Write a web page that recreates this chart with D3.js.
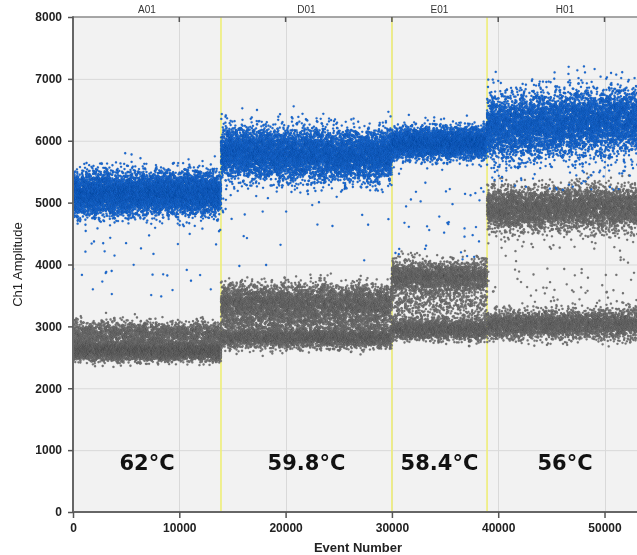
<!DOCTYPE html>
<html>
<head>
<meta charset="utf-8">
<script src="https://cdn.jsdelivr.net/npm/d3@7"></script>
<style>
  body { margin: 0; background: #fff; }
  #wrap { position: relative; width: 637px; height: 555px; overflow: hidden; }
  #wrap svg, #wrap canvas { position: absolute; left: 0; top: 0; }
</style>
</head>
<body>
<div id="wrap"></div>
<script>
// Wells run one after another along the event axis
const wells = ["A01", "D01", "E01", "H01"];
const wellStart = [0, 13920, 30000, 38950];
const wellEnd = [13920, 30000, 38950, 53620];
const temperatures = ["62°C", "59.8°C", "58.4°C", "56°C"];

// Droplet clusters: well index, channel state, amplitude centre, spread,
// share of the well's droplets, drift across the well, shape
const clusterWell   = [0, 0, 0, 0,   1, 1, 1, 1, 1,   2, 2, 2, 2, 2,   3, 3, 3, 3, 3];
const clusterState  = ["pos","neg","neg","pos", "pos","neg","neg","neg","pos", "pos","neg","neg","neg","pos", "pos","neg","neg","neg","pos"];
const clusterCentre = [5150, 2610, 2890, 4200,  5780, 3370, 2820, 3060, 4600,  5960, 3800, 2950, 3360, 4700,  6280, 4910, 3030, 3950, 5500];
const clusterSpread = [ 170,   80,   95,  900,   200,  150,   80,   80,  800,   125,  125,   85,  170,  700,   255,  170,  115,  700,  300];
const clusterShare  = [0.50, 0.36, 0.13, 0.0025, 0.44, 0.28, 0.22, 0.05, 0.002, 0.44, 0.26, 0.23, 0.06, 0.004, 0.43, 0.31, 0.24, 0.007, 0.0035];
const clusterDrift  = [  20,  -10,    0,    0,   -60,    0,    0,    0,    0,    20,    0,    0,    0,    0,   100,   20,   20,    0,    0];
const clusterShape  = ["band","band","band","rain", "band","band","band","band","rain", "band","band","band","band","rain", "band","band","band","rain","rain"];

const yTicks = [0, 1000, 2000, 3000, 4000, 5000, 6000, 7000, 8000];
const xTicks = [0, 10000, 20000, 30000, 40000, 50000];

const W = 637, H = 555;
const x = d3.scaleLinear().domain([0, 53620]).range([73, 643]);
const y = d3.scaleLinear().domain([0, 8000]).range([512, 17]);

const wrap = d3.select("#wrap");

// ---- background layer: plot area, grid, well dividers
const back = wrap.append("svg").attr("width", W).attr("height", H);
back.append("rect")
  .attr("x", x(0)).attr("y", y(8000))
  .attr("width", x(53620) - x(0)).attr("height", y(0) - y(8000))
  .attr("fill", "#f2f2f2");
back.append("g").selectAll("line").data(yTicks.slice(1, -1)).join("line")
  .attr("x1", x(0)).attr("x2", W)
  .attr("y1", d => y(d) + 0.5).attr("y2", d => y(d) + 0.5)
  .attr("stroke", "#d9d9d9").attr("stroke-width", 1);
back.append("g").selectAll("line").data(xTicks.slice(1)).join("line")
  .attr("x1", d => Math.round(x(d)) + 0.5).attr("x2", d => Math.round(x(d)) + 0.5)
  .attr("y1", y(8000)).attr("y2", y(0))
  .attr("stroke", "#d9d9d9").attr("stroke-width", 1);
back.append("g").selectAll("line").data(wellStart.slice(1)).join("line")
  .attr("x1", d => x(d)).attr("x2", d => x(d))
  .attr("y1", y(8000)).attr("y2", y(0))
  .attr("stroke", "#efee78").attr("stroke-width", 1.6);

// ---- droplet layer
const canvas = wrap.append("canvas").attr("width", W).attr("height", H).node();
const ctx = canvas.getContext("2d");
ctx.save();
ctx.beginPath();
ctx.rect(x(0), y(8000), x(53620) - x(0), y(0) - y(8000));
ctx.clip();

const lcg = d3.randomLcg(0.4172);
const unit = d3.randomUniform.source(lcg)(0, 1);
const gauss = d3.randomNormal.source(lcg)(0, 1);

const droplets = { pos: [], neg: [] };
wells.forEach((w, wi) => {
  const ids = d3.range(clusterWell.length).filter(c => clusterWell[c] === wi);
  const total = d3.sum(ids, c => clusterShare[c]);
  const cum = d3.cumsum(ids.map(c => clusterShare[c] / total));
  for (let ev = wellStart[wi]; ev < wellEnd[wi]; ev++) {
    const u = unit();
    let k = cum.findIndex(v => u <= v);
    if (k < 0) k = ids.length - 1;
    const c = ids[k];
    const t = (ev - wellStart[wi]) / (wellEnd[wi] - wellStart[wi]) - 0.5;
    const centre = clusterCentre[c] + clusterDrift[c] * t;
    const amp = clusterShape[c] === "band"
      ? centre + gauss() * clusterSpread[c]
      : centre + (unit() * 2 - 1) * clusterSpread[c];
    droplets[clusterState[c]].push([ev, amp]);
  }
});

function drawDroplets(list, fill, edge) {
  ctx.fillStyle = fill;
  ctx.strokeStyle = edge;
  ctx.lineWidth = 0.5;
  for (const [ev, amp] of list) {
    ctx.beginPath();
    ctx.arc(x(ev), y(amp), 1.15, 0, 2 * Math.PI);
    ctx.fill();
    ctx.stroke();
  }
}
drawDroplets(droplets.neg, "#767676", "rgba(0,0,0,0.16)");
drawDroplets(droplets.pos, "#1b6cd6", "rgba(4,30,80,0.2)");
ctx.restore();

// ---- front layer: axes and text
const front = wrap.append("svg").attr("width", W).attr("height", H);
const font = "'Liberation Sans', Arial, sans-serif";

// frame lines
front.append("line").attr("x1", x(0)).attr("x2", W).attr("y1", y(8000)).attr("y2", y(8000))
  .attr("stroke", "#8a8a8a").attr("stroke-width", 1.5);
front.append("line").attr("x1", x(0)).attr("x2", W).attr("y1", y(0)).attr("y2", y(0))
  .attr("stroke", "#666").attr("stroke-width", 2);
front.append("line").attr("x1", x(0)).attr("x2", x(0)).attr("y1", y(8000) - 0.75).attr("y2", y(0) + 1)
  .attr("stroke", "#666").attr("stroke-width", 2);

// y axis
const yAxis = d3.axisLeft(y).tickValues(yTicks).tickSize(5).tickPadding(6).tickFormat(d3.format("d"));
const gy = front.append("g").attr("transform", `translate(${x(0)},0)`).call(yAxis);
gy.select(".domain").remove();
gy.selectAll(".tick line").attr("stroke", "#555").attr("stroke-width", 1.5);
gy.selectAll(".tick text").attr("fill", "#222").attr("font-family", font)
  .attr("font-size", 12).attr("font-weight", "bold");

// x axis
const xAxis = d3.axisBottom(x).tickValues(xTicks).tickSize(6).tickPadding(5).tickFormat(d3.format("d"));
const gx = front.append("g").attr("transform", `translate(0,${y(0)})`).call(xAxis);
gx.select(".domain").remove();
gx.selectAll(".tick line").attr("stroke", "#555").attr("stroke-width", 1.5);
gx.selectAll(".tick text").attr("fill", "#222").attr("font-family", font)
  .attr("font-size", 12).attr("font-weight", "bold");

// inward ticks along the top edge
front.append("g").selectAll("line").data(xTicks.slice(1)).join("line")
  .attr("x1", d => x(d)).attr("x2", d => x(d))
  .attr("y1", y(8000)).attr("y2", y(8000) + 5)
  .attr("stroke", "#555").attr("stroke-width", 1.5);

// well names above the plot
front.append("g").selectAll("text").data(wells).join("text")
  .attr("x", (d, i) => (x(wellStart[i]) + x(wellEnd[i])) / 2)
  .attr("y", 13)
  .attr("text-anchor", "middle")
  .attr("font-family", font).attr("font-size", 10)
  .attr("fill", "#333")
  .text(d => d);

// annealing temperature per well
front.append("g").selectAll("text").data(temperatures).join("text")
  .attr("x", (d, i) => (x(wellStart[i]) + x(wellEnd[i])) / 2)
  .attr("y", 470)
  .attr("text-anchor", "middle")
  .attr("font-family", "'DejaVu Sans', Verdana, sans-serif")
  .attr("font-size", 21).attr("font-weight", "bold")
  .attr("fill", "#111")
  .text(d => d);

// axis titles
front.append("text")
  .attr("transform", `translate(22,${(y(0) + y(8000)) / 2}) rotate(-90)`)
  .attr("text-anchor", "middle")
  .attr("font-family", font).attr("font-size", 13)
  .attr("fill", "#222")
  .text("Ch1 Amplitude");
front.append("text")
  .attr("x", (x(0) + x(53620)) / 2)
  .attr("y", 552)
  .attr("text-anchor", "middle")
  .attr("font-family", font).attr("font-size", 13).attr("font-weight", "bold")
  .attr("fill", "#222")
  .text("Event Number");
</script>
</body>
</html>
